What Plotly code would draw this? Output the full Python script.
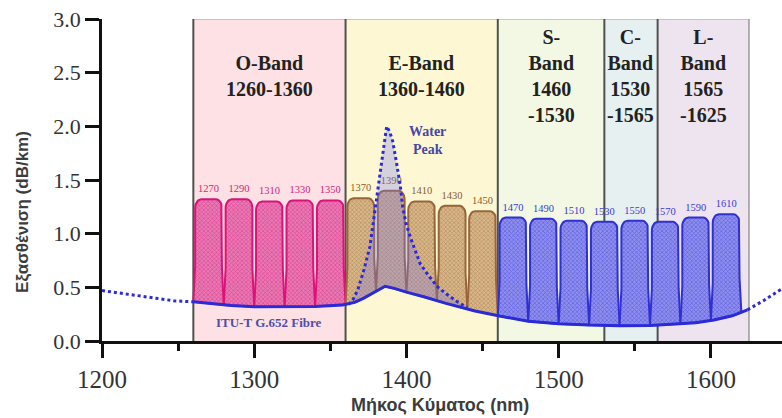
import numpy as np
import plotly.graph_objects as go

# Spectral bands (nm)
band_names = ["O-Band<br>1260-1360", "E-Band<br>1360-1460", "S-<br>Band<br>1460<br>-1530",
              "C-<br>Band<br>1530<br>-1565", "L-<br>Band<br>1565<br>-1625"]
band_start = [1260, 1360, 1460, 1530, 1565]
band_end = [1360, 1460, 1530, 1565, 1625]
band_fill = ["#fde1e4", "#fdf8d3", "#f2f8e4", "#e6f0f1", "#ede4ef"]

# CWDM channels: centre wavelength (nm) and peak attenuation level (dB/km)
o_ch = [1270, 1290, 1310, 1330, 1350]
o_peak = [1.32, 1.32, 1.30, 1.31, 1.31]
e_ch = [1370, 1390, 1410, 1430, 1450]
e_peak = [1.33, 1.40, 1.30, 1.26, 1.21]
scl_ch = [1470, 1490, 1510, 1530, 1550, 1570, 1590, 1610]
scl_peak = [1.15, 1.14, 1.12, 1.11, 1.12, 1.11, 1.15, 1.18]

# ITU-T G.652 fibre attenuation (dB/km)
fib_x = [1260, 1272, 1285, 1300, 1320, 1340, 1358, 1366, 1372, 1378, 1386, 1392, 1400,
         1412, 1426, 1445, 1462, 1480, 1500, 1520, 1540, 1560, 1575, 1590, 1602, 1614, 1624]
fib_y = [0.365, 0.345, 0.33, 0.32, 0.318, 0.322, 0.335, 0.36, 0.40, 0.45, 0.51, 0.49, 0.455,
         0.41, 0.35, 0.28, 0.23, 0.185, 0.16, 0.148, 0.143, 0.145, 0.155, 0.17, 0.195, 0.235, 0.29]
ext_left_x = [1200, 1215, 1230, 1247, 1260]
ext_left_y = [0.47, 0.44, 0.41, 0.375, 0.365]
ext_right_x = [1624, 1635, 1647]
ext_right_y = [0.29, 0.38, 0.49]

# Water peak (older fibre)
wp_x = [1362, 1365, 1368, 1372, 1376, 1378, 1380, 1382, 1384, 1385.5, 1387, 1389, 1391,
        1393.5, 1396, 1397.5, 1400, 1403, 1409, 1415, 1420, 1426, 1433, 1440]
wp_y = [0.34, 0.39, 0.475, 0.66, 0.88, 1.08, 1.30, 1.53, 1.72, 1.87, 2.0, 1.95, 1.86,
        1.66, 1.44, 1.25, 1.08, 0.95, 0.72, 0.60, 0.51, 0.44, 0.37, 0.31]

BLUE = "#2a2ad8"


def fibre(x):
    return np.interp(x, fib_x, fib_y)


def channel_outline(c, peak):
    """Flat-top filter passband with rounded shoulders, standing on the fibre curve."""
    w_top, w_base = 8.8, 10.0
    rx, ry = 4.0, 0.08
    bx = np.linspace(c - w_base, c + w_base, 9)
    by = fibre(bx)
    knee_r = by[-1] + 0.35 * (peak - by[-1])
    knee_l = by[0] + 0.35 * (peak - by[0])
    t1 = np.linspace(0, np.pi / 2, 8)
    t2 = np.linspace(np.pi / 2, np.pi, 8)
    xr = c + (w_top - rx) + rx * np.cos(t1)
    yr = peak - ry + ry * np.sin(t1)
    xl = c - (w_top - rx) + rx * np.cos(t2)
    yl = peak - ry + ry * np.sin(t2)
    xs = list(bx) + [c + w_top] + list(xr) + list(xl) + [c - w_top, bx[0]]
    ys = list(by) + [knee_r] + list(yr) + list(yl) + [knee_l, by[0]]
    return xs, ys


fig = go.Figure()

# band backgrounds
for s, e, col in zip(band_start, band_end, band_fill):
    fig.add_shape(type="rect", x0=s, x1=e, y0=0, y1=3.0, fillcolor=col,
                  line=dict(width=0), layer="below")
fig.add_shape(type="line", x0=band_start[0], x1=band_end[-1], y0=3.0, y1=3.0,
              line=dict(color="#b8b8b8", width=1.5), layer="below")
for xb in band_start:
    fig.add_shape(type="line", x0=xb, x1=xb, y0=0, y1=3.0,
                  line=dict(color="#505050", width=2), layer="below")
fig.add_shape(type="line", x0=band_end[-1], x1=band_end[-1], y0=0, y1=3.0,
              line=dict(color="#9a9a9a", width=1.5), layer="below")

# band captions
for s, e, name in zip(band_start, band_end, band_names):
    fig.add_annotation(x=(s + e) / 2, y=2.47, text=name, showarrow=False,
                       font=dict(family="Liberation Serif", size=20, color="#222222", weight="bold"),
                       align="center", yanchor="middle")

# CWDM channels
groups = [
    (o_ch, o_peak, "#d8137a", "#e77ab2", "#d0267f"),
    (e_ch, e_peak, "#98643a", "#d8b789", "#8b5a2b"),
    (scl_ch, scl_peak, "#3030d2", "#8f8fee", "#3b3bcf"),
]
for chans, peaks, edge, bg, txt in groups:
    for c, p in zip(chans, peaks):
        xs, ys = channel_outline(c, p)
        fig.add_trace(go.Scatter(
            x=xs, y=ys, mode="lines", fill="toself",
            line=dict(color=edge, width=2),
            fillcolor=bg,
            fillpattern=dict(shape="x", fgcolor=edge, bgcolor=bg, size=3, solidity=0.4),
            hoverinfo="skip", showlegend=False))
    fig.add_trace(go.Scatter(
        x=chans, y=[p + 0.09 for p in peaks], mode="text",
        text=[str(c) for c in chans], textposition="middle center",
        textfont=dict(family="Liberation Serif", size=10.5, color=txt),
        hoverinfo="skip", showlegend=False))

# water peak region
wp_base = fibre(wp_x)
fig.add_trace(go.Scatter(x=wp_x, y=wp_base, mode="lines", line=dict(width=0),
                         hoverinfo="skip", showlegend=False))
fig.add_trace(go.Scatter(x=wp_x, y=wp_y, mode="lines", fill="tonexty",
                         fillcolor="rgba(120,120,245,0.30)",
                         line=dict(color=BLUE, width=3, dash="dot"),
                         hoverinfo="skip", showlegend=False))

# fibre attenuation
fig.add_trace(go.Scatter(x=ext_left_x, y=ext_left_y, mode="lines",
                         line=dict(color=BLUE, width=3, dash="dot"),
                         hoverinfo="skip", showlegend=False))
fig.add_trace(go.Scatter(x=ext_right_x, y=ext_right_y, mode="lines",
                         line=dict(color=BLUE, width=3, dash="dot"),
                         hoverinfo="skip", showlegend=False))
fig.add_trace(go.Scatter(x=fib_x, y=fib_y, mode="lines", line=dict(color=BLUE, width=3),
                         hoverinfo="skip", showlegend=False))

fig.add_annotation(x=1310, y=0.175, text="ITU-T G.652 Fibre", showarrow=False,
                   font=dict(family="Liberation Serif", size=13, color="#4f4fa8", weight="bold"))
fig.add_annotation(x=1414, y=1.87, text="Water<br>Peak", showarrow=False, align="center",
                   font=dict(family="Liberation Serif", size=14, color="#4646a6", weight="bold"))

# axis titles
fig.add_annotation(xref="paper", yref="paper", x=0.497, y=-0.199, text="Μήκος Κύματος (nm)",
                   showarrow=False, yanchor="middle",
                   font=dict(family="Liberation Sans", size=18, color="#3c3c3c", weight="bold"))
fig.add_annotation(xref="paper", yref="paper", x=-0.118, y=0.40, text="Εξασθένιση (dB/km)",
                   showarrow=False, textangle=-90, xanchor="center", yanchor="middle",
                   font=dict(family="Liberation Sans", size=17, color="#3c3c3c", weight="bold"))

fig.update_layout(
    width=782, height=418,
    margin=dict(l=102, r=0, t=19, b=77),
    plot_bgcolor="white", paper_bgcolor="white",
    xaxis=dict(range=[1200, 1646.7], tickvals=[1200, 1300, 1400, 1500, 1600],
               ticks="outside", ticklen=14, tickwidth=2.5, tickcolor="#111",
               showline=True, linewidth=2.5, linecolor="#111",
               showgrid=False, zeroline=False,
               tickfont=dict(family="Liberation Serif", size=25, color="#333"),
               minor=dict(ticks="outside", ticklen=7, tickwidth=2.5, tickcolor="#111",
                          dtick=50, tick0=1200, showgrid=False)),
    yaxis=dict(range=[0, 3.0], dtick=0.5, tickformat=".1f",
               ticks="outside", ticklen=14, tickwidth=2.5, tickcolor="#111",
               showline=True, linewidth=2.5, linecolor="#111",
               showgrid=False, zeroline=False,
               tickfont=dict(family="Liberation Serif", size=22, color="#333")),
)

fig.write_html("out.html")
